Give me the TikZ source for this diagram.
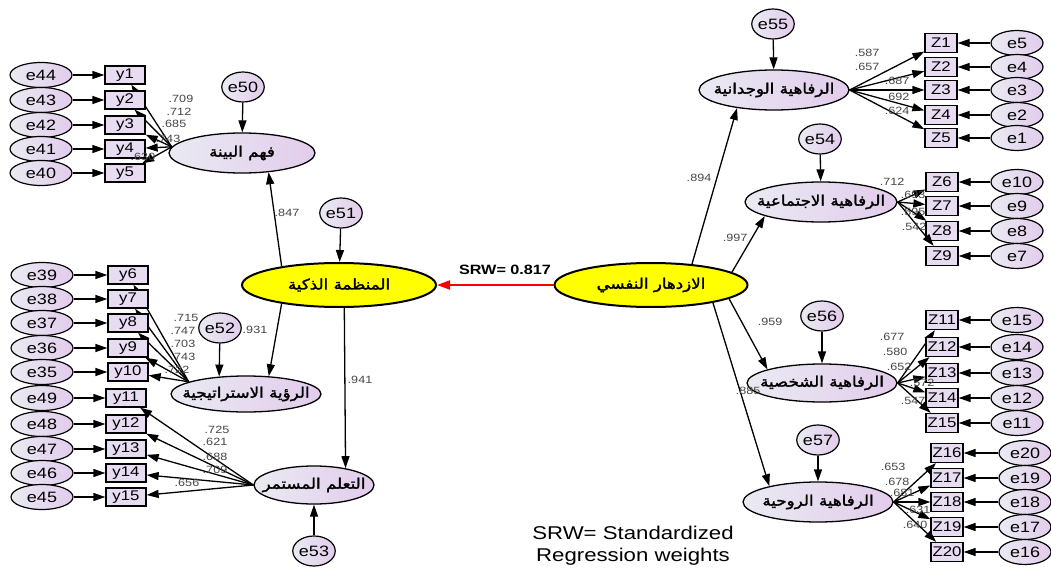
\documentclass[tikz,border=0pt]{standalone}
\usepackage{fontspec}
\usetikzlibrary{shapes.geometric,arrows.meta}
\setmainfont{Liberation Sans}
\newfontfamily\widesans[FakeStretch=1.2]{Liberation Sans}
\newfontfamily\widesansbf[FakeStretch=1.2]{Liberation Sans Bold}
\newfontfamily\arabfont[Script=Arabic,FakeBold=2,FakeStretch=1.15]{DejaVu Sans}
\TeXXeTstate=1
% Arabic caption centred inside an ellipse of fixed size
\newcommand{\artext}[1]{\makebox[0pt]{\beginR #1\endR}}
\definecolor{lavL}{RGB}{234,234,242}
\definecolor{lavR}{RGB}{226,204,236}
\definecolor{boxF}{RGB}{232,220,242}
\definecolor{coefC}{RGB}{70,70,70}
\definecolor{keyY}{RGB}{255,255,0}
\tikzset{
  arr/.style={-{Triangle[length=12pt,width=8pt]}, line width=1.3pt},
  errn/.style={ellipse, draw=black, line width=1.2pt, left color=lavL, right color=lavR,
    inner sep=0pt, font=\widesans\fontsize{15}{15}\selectfont},
  lerr/.style={errn, minimum width=62pt, minimum height=25pt},
  rerr/.style={errn, minimum width=52pt, minimum height=25pt},
  res/.style={errn, minimum width=40pt, minimum height=30pt},
  obs/.style={rectangle, draw=black, line width=1.3pt, fill=boxF, inner sep=0pt,
    font=\widesans\fontsize{14}{14}\selectfont},
  lobs/.style={obs, minimum width=40pt, minimum height=18pt},
  robs/.style={obs, minimum width=32pt, minimum height=19pt},
  lat/.style={ellipse, draw=black, line width=1.3pt, left color=lavL, right color=lavR,
    inner sep=0pt, font=\arabfont\fontsize{14.5}{14.5}\selectfont},
  keylat/.style={ellipse, draw=black, line width=2pt, fill=keyY, inner sep=0pt,
    minimum width=194pt, minimum height=44pt, font=\arabfont\fontsize{14.5}{14.5}\selectfont},
  coef/.style={inner sep=0pt, text=coefC, font=\widesans\fontsize{10.5}{10.5}\selectfont},
}
\begin{document}
\begin{tikzpicture}[x=1pt,y=-1pt]
\path[use as bounding box, fill=white] (0,0) rectangle (1051,572);

% ---------- latent variables ----------
\node[lat, minimum width=146pt, minimum height=40pt] (fb) at (242,153) {\artext{فهم البينة}};
\node[lat, minimum width=150pt, minimum height=36pt] (rs) at (246,394) {\artext{الرؤية الاستراتيجية}};
\node[lat, minimum width=120pt, minimum height=38pt] (tm) at (314,485) {\artext{التعلم المستمر}};
\node[keylat] (mz) at (339,285) {\artext{المنظمة الذكية}};
\node[keylat, minimum width=193pt] (az) at (651,285) {\artext{الازدهار النفسي}};
\node[lat, minimum width=150pt, minimum height=40pt] (vj) at (774,90) {\artext{الرفاهية الوجدانية}};
\node[lat, minimum width=152pt, minimum height=40pt] (ij) at (821,202) {\artext{الرفاهية الاجتماعية}};
\node[lat, minimum width=150pt, minimum height=38pt] (sh) at (822,383) {\artext{الرفاهية الشخصية}};
\node[lat, minimum width=150pt, minimum height=40pt] (rh) at (818,502) {\artext{الرفاهية الروحية}};

% ---------- residuals of latent variables ----------
\node[res] (e50) at (243,87) {e50};
\node[res] (e51) at (341,213) {e51};
\node[res] (e52) at (220,328) {e52};
\node[res] (e53) at (314,551) {e53};
\node[res] (e55) at (773,24) {e55};
\node[res] (e54) at (820,139) {e54};
\node[res] (e56) at (822,316) {e56};
\node[res] (e57) at (818,440) {e57};
\draw[arr] (e50) -- (fb);
\draw[arr] (e51) -- (mz);
\draw[arr] (e52) -- (rs.147);
\draw[arr] (e53) -- (tm);
\draw[arr] (e55) -- (vj);
\draw[arr] (e54) -- (ij);
\draw[arr] (e56) -- (sh);
\draw[arr] (e57) -- (rh);

% ---------- left indicators ----------
\foreach \e/\o/\yy in {44/1/75,43/2/100,42/3/125,41/4/149,40/5/173}{
  \node[lerr] (e\e) at (41,\yy) {e\e};
  \node[lobs] (y\o) at (125,\yy) {y\o};
  \draw[arr] (e\e) -- (y\o);
  \draw[arr] (fb.175) -- (y\o);
}
\foreach \e/\o/\yy in {39/6/275,38/7/299,37/8/323,36/9/348,35/10/372}{
  \node[lerr] (e\e) at (42,\yy) {e\e};
  \node[lobs] (y\o) at (128,\yy) {y\o};
  \draw[arr] (e\e) -- (y\o);
  \draw[arr] (rs.168) -- (y\o);
}
\foreach \e/\o/\yy in {49/11/398,48/12/424,47/13/449,46/14/473,45/15/497}{
  \node[lerr] (e\e) at (42,\yy) {e\e};
  \node[lobs] (y\o) at (126,\yy) {y\o};
  \draw[arr] (e\e) -- (y\o);
  \draw[arr] (tm.west) -- (y\o);
}

% ---------- right indicators ----------
\foreach \z/\e/\yy in {1/5/43,2/4/67,3/3/90,4/2/115,5/1/138}{
  \node[robs] (z\z) at (941,\yy) {Z\z};
  \node[rerr] (e\e) at (1017,\yy) {e\e};
  \draw[arr] (e\e) -- (z\z);
  \draw[arr] (vj.east) -- (z\z);
}
\foreach \z/\e/\yy in {6/10/182,7/9/206,8/8/231,9/7/256}{
  \node[robs] (z\z) at (942,\yy) {Z\z};
  \node[rerr] (e\e) at (1017,\yy) {e\e};
  \draw[arr] (e\e) -- (z\z);
  \draw[arr] (ij.east) -- (z\z);
}
\foreach \z/\e/\yy in {11/15/320,12/14/347,13/13/373,14/12/398,15/11/423}{
  \node[robs] (z\z) at (942,\yy) {Z\z};
  \node[rerr] (e\e) at (1017,\yy) {e\e};
  \draw[arr] (e\e) -- (z\z);
  \draw[arr] (sh.east) -- (z\z);
}
\foreach \z/\e/\yy in {16/20/453,17/19/478,18/18/502,19/17/527,20/16/552}{
  \node[robs] (z\z) at (947,\yy) {Z\z};
  \node[rerr] (e\e) at (1025,\yy) {e\e};
  \draw[arr] (e\e) -- (z\z);
  \draw[arr] (rh.east) -- (z\z);
}

% ---------- structural paths ----------
\draw[arr] (mz.162) -- (fb.-36);
\draw[arr] (mz.198) -- (rs.38);
\draw[arr] (mz.-77) -- (tm.28);
\draw[arr] (az.27) -- (vj.206);
\draw[arr] (az.9) -- (ij.194);
\draw[arr] (az.-10) -- (sh.166);
\draw[arr] (az.-16) -- (rh.162);
\draw[-{Triangle[length=13pt,width=9pt]}, line width=2pt, red] (az) -- (mz);
\node[inner sep=0pt, font=\widesansbf\fontsize{13.5}{13.5}\selectfont] (srw) at (505,270) {SRW= 0.817};

% ---------- path coefficients ----------
\foreach \v/\px/\py [count=\k] in {
  .709/181/99, .712/179/112, .685/174/124, .743/168/139, .630/143/157,
  .715/186/318, .747/183/331, .703/183/344, .743/183/357, .722/177/370,
  .725/217/430, .621/215/442, .688/215/457, .709/215/470, .656/187/483,
  .847/287/213, .931/255/330, .941/360/380,
  .894/699/178, .997/735/238, .959/770/322, .885/748/391,
  .587/867/53, .657/867/67, .687/897/81, .692/897/97, .624/897/111,
  .712/892/182, .693/913/195, .595/913/212, .542/914/227,
  .677/892/337, .580/895/352, .652/899/367, .572/922/383, .547/913/401,
  .653/893/467, .678/897/482, .681/902/493, .631/918/510, .640/915/525}{
  \node[coef] (c\k) at (\px,\py) {\v};
}

% ---------- note ----------
\node[inner sep=0pt, align=center, font=\widesans\fontsize{18.5}{22}\selectfont] (note) at (633,546)
  {SRW= Standardized\\Regression weights};
\end{tikzpicture}
\end{document}
